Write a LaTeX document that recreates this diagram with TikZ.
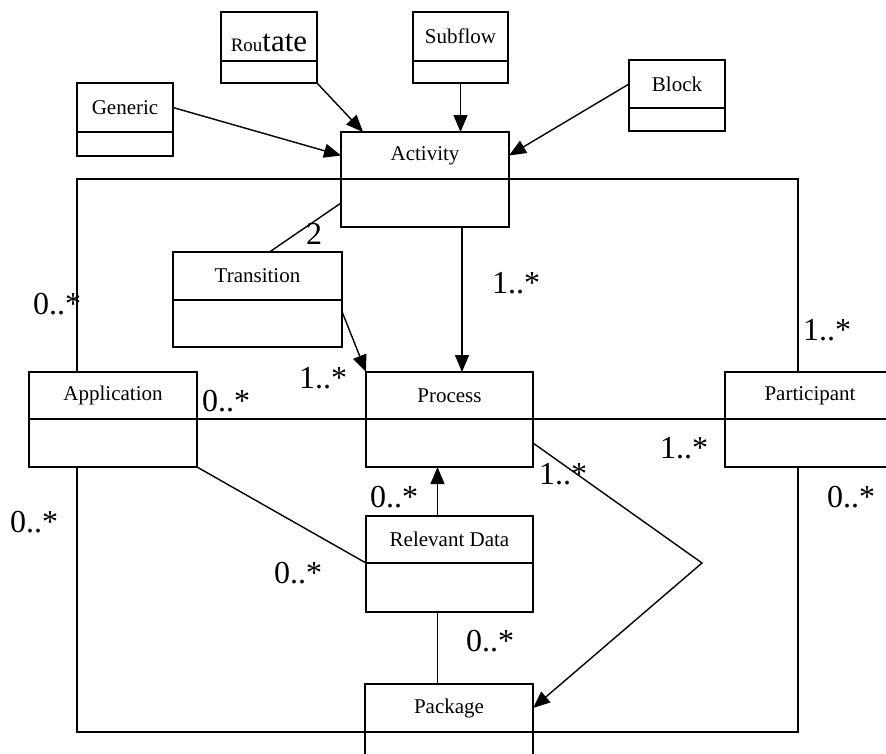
\documentclass[tikz,border=0pt]{standalone}
\usepackage{fontspec}
\setmainfont{Liberation Serif}
\usetikzlibrary{arrows.meta, calc}

\tikzset{
  classbox/.style={draw, fill=white, line width=1.4pt, inner sep=0pt, outer sep=0pt},
  classname/.style={font=\fontsize{21}{25}\selectfont, inner sep=0pt},
  mult/.style={font=\fontsize{32}{36}\selectfont, inner sep=0pt},
  assoc/.style={line width=1.4pt},
  navarrow/.style={assoc, -{Triangle[length=17pt, width=14pt]}},
}

% class box: name, left, top, width, name height, total height, label
\newcommand{\umlclass}[7]{%
  \node[classbox, anchor=north west, minimum width=#4pt, minimum height=#6pt] (#1) at (#2,#3) {};
  \coordinate (#1-dl) at ($(#1.north west)+(0,#5)$);
  \coordinate (#1-dr) at ($(#1.north east)+(0,#5)$);
  \coordinate (#1-bl) at ($(#1-dl)!0.5!(#1.south west)$);
  \coordinate (#1-br) at ($(#1-dr)!0.5!(#1.south east)$);
  \draw[assoc] (#1-dl) -- (#1-dr);
  \node[classname] (#1-t) at ($(#1.north)+(0,#5/2)$) {#7};
}

\begin{document}
\begin{tikzpicture}[x=1pt, y=-1pt]
    \path[use as bounding box, clip] (0,0) rectangle (886,753);
    % outer association frame
    \draw[assoc] (77,179) rectangle (798,732);
    % classes
    \umlclass{rou}{221}{12}{96}{49}{71}{\rule{0pt}{30pt}{\fontsize{19}{22}\selectfont Rou}{\fontsize{31}{34}\selectfont tate}}
    \umlclass{sub}{413}{12}{95}{49}{71}{Subflow}
    \umlclass{gen}{77}{83}{96}{49}{73}{Generic}
    \umlclass{blk}{629}{60}{96}{48}{71}{Block}
    \umlclass{act}{341}{132}{168}{47}{95}{Activity}
    \umlclass{trn}{173}{252}{169}{48}{95}{Transition}
    \umlclass{app}{29}{372}{168}{47}{95}{Application}
    \umlclass{proc}{366}{372}{167}{47}{95}{Process}
    \umlclass{part}{725}{372}{170}{47}{95}{Participant}
    \umlclass{rel}{366}{516}{167}{47}{96}{Relevant Data}
    \umlclass{pkg}{365}{684}{168}{48}{96}{Package}
    % generalisations into Activity
    \draw[navarrow] (gen-t -| gen.east) -- (act-t -| act.west);
    \draw[navarrow] (rou.south east) -- ($(act.north west)+(22,0)$);
    \draw[navarrow] (sub.south) -- (sub.south |- act.north);
    \draw[navarrow] (blk-t -| blk.west) -- (act-t -| act.east);
    % associations
    \coordinate (actout) at ($(act.south)+(37,0)$);
    \coordinate (relup) at ($(rel.north)+(-12,0)$);
    \coordinate (reldn) at ($(rel.south)+(-12,0)$);
    \coordinate (bend) at (702,563);
    \draw[assoc] (act-bl) -- ($(trn.north)+(12,0)$);
    \draw[navarrow] (actout) -- (actout |- proc.north);
    \draw[navarrow] ($(trn.east)+(0,12)$) -- (proc.north west);
    \draw[assoc] (app-dr) -- (proc-dl);
    \draw[assoc] (proc-dr) -- (part-dl);
    \draw[assoc] (app.south east) -- (rel-dl);
    \draw[navarrow] (relup) -- (relup |- proc.south);
    \draw[assoc] (reldn) -- (reldn |- pkg.north);
    \draw[navarrow] (proc-br) -- (bend) -- (pkg-t -| pkg.east);
    % multiplicities
    \node[mult] (m2) at (314,234) {2};
    \node[mult] (mact) at (516,283) {1..*};
    \node[mult] (mappup) at (57,304) {0..*};
    \node[mult] (mpartup) at (827,330) {1..*};
    \node[mult] (mtrn) at (323,378) {1..*};
    \node[mult] (mapp) at (226,401) {0..*};
    \node[mult] (mpart) at (684,448) {1..*};
    \node[mult] (mproc) at (563,474) {1..*};
    \node[mult] (mrelup) at (394,497) {0..*};
    \node[mult] (mpartdn) at (851,497) {0..*};
    \node[mult] (mappdn) at (34,522) {0..*};
    \node[mult] (mrel) at (298,573) {0..*};
    \node[mult] (mpkg) at (490,641) {0..*};
\end{tikzpicture}
\end{document}
